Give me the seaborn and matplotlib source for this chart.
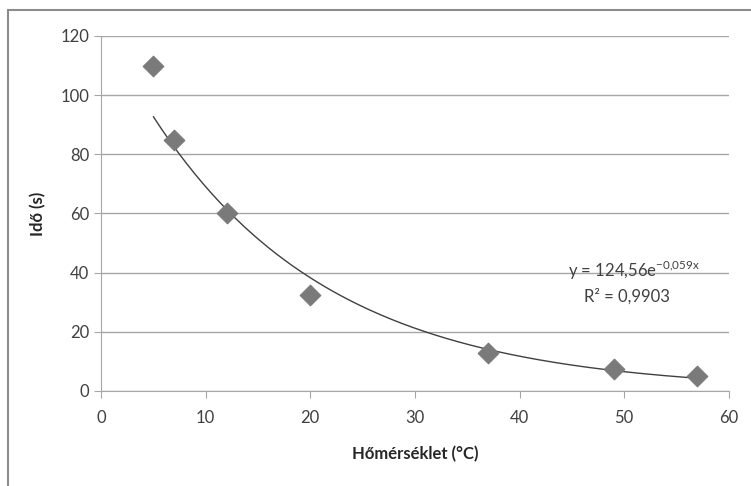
import numpy as np
import pandas as pd
import matplotlib.pyplot as plt
import seaborn as sns

# --- DATA ---
temperature = [5, 7, 12, 20, 37, 49, 57]
time_s = [110, 85, 60, 32.5, 13, 7.5, 5]
# Excel exponential trendline constants (shown on chart)
fit_a = 124.56
fit_b = -0.059
fit_r2 = 0.9903

df = pd.DataFrame({'Hőmérséklet': temperature, 'Idő': time_s})

sns.set_style("white")
plt.rcParams['font.family'] = ['Lato', 'DejaVu Sans']
plt.rcParams['mathtext.fontset'] = 'custom'
plt.rcParams['mathtext.rm'] = 'Lato'

fig = plt.figure(figsize=(7.51, 4.86), dpi=100)
ax = fig.add_axes([0.1345, 0.1955, 0.836, 0.7305])

# figure border (Excel chart area)
fig.patches.append(plt.Rectangle((0.011, -0.01), 1.2, 0.99, transform=fig.transFigure,
                                 fill=False, edgecolor='#8c8c8c', linewidth=1.5))

ax.yaxis.grid(True, color='#a6a6a6', linewidth=1.0)
ax.set_axisbelow(True)

# trendline
xs = np.linspace(min(temperature), max(temperature), 200)
ax.plot(xs, fit_a * np.exp(fit_b * xs), color='#404040', linewidth=1.0, zorder=2)

sns.scatterplot(data=df, x='Hőmérséklet', y='Idő', marker='D', s=110,
                color='#7a7a7a', edgecolor='#7a7a7a', ax=ax, zorder=3)

ax.set_xlim(0, 60)
ax.set_ylim(0, 120)
ax.set_xticks(range(0, 61, 10))
ax.set_yticks(range(0, 121, 20))
ax.tick_params(axis='both', labelsize=12, colors='#a6a6a6', labelcolor='#404040',
               length=5, direction='out', bottom=True, left=True)
ax.tick_params(axis='x', pad=9)

for side in ['top', 'right']:
    ax.spines[side].set_visible(False)
for side in ['left', 'bottom']:
    ax.spines[side].set_color('#a6a6a6')

ax.set_xlabel('Hőmérséklet (°C)', fontsize=12, fontweight='bold', color='#262626', labelpad=14)
ax.set_ylabel('Idő (s)', fontsize=12, fontweight='bold', color='#262626', labelpad=10)

a_txt = f'{fit_a:.2f}'.replace('.', ',')
b_txt = f'{fit_b}'.replace('.', '{,}')
ax.text(44.6, 40.9, 'y = ' + a_txt + r'e$^{\mathregular{' + b_txt + 'x}}$',
        fontsize=12, color='#404040', ha='left', va='center')
ax.text(46.2, 32.1, f'R² = {fit_r2}'.replace('.', ','), fontsize=12, color='#404040',
        ha='left', va='center')

plt.savefig('out.png', dpi=100)
